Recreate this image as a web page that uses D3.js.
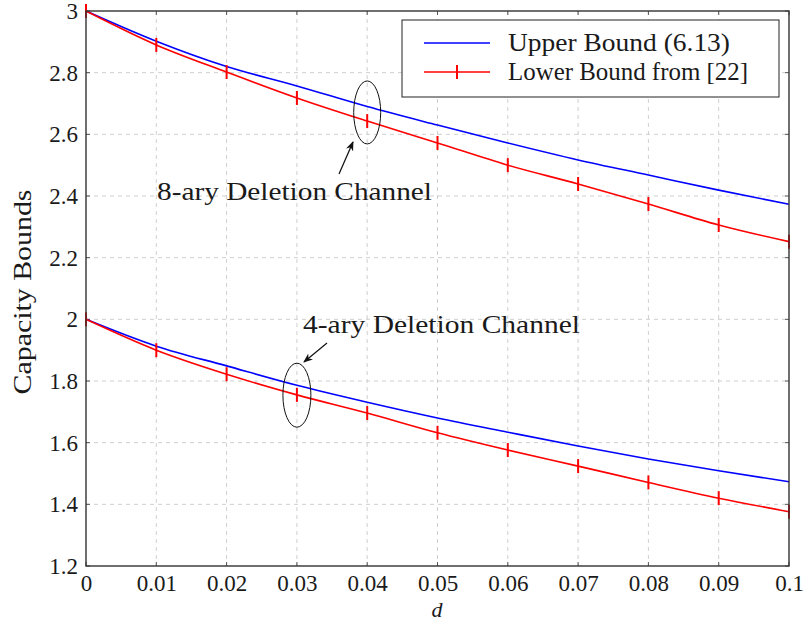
<!DOCTYPE html>
<html><head><meta charset="utf-8">
<script src="https://cdn.jsdelivr.net/npm/d3@7"></script>
<style>
body{margin:0;background:#fff;}
text{font-family:"Liberation Serif","DejaVu Serif",serif;fill:#1a1a1a;}
</style></head>
<body><svg id="c" width="806" height="622"></svg>
<script>
const dValues = [0,0.01,0.02,0.03,0.04,0.05,0.06,0.07,0.08,0.09,0.1];
const upper8 = [3,2.902,2.820,2.757,2.690,2.630,2.572,2.517,2.468,2.419,2.373];
const lower8 = [3,2.890,2.802,2.718,2.643,2.572,2.500,2.439,2.374,2.306,2.252];
const upper4 = [2,1.913,1.849,1.786,1.731,1.680,1.634,1.589,1.547,1.509,1.473];
const lower4 = [2,1.900,1.822,1.755,1.696,1.632,1.576,1.524,1.471,1.420,1.376];
const xTicks = [0,0.01,0.02,0.03,0.04,0.05,0.06,0.07,0.08,0.09,0.1];
const xTickLabels = ["0","0.01","0.02","0.03","0.04","0.05","0.06","0.07","0.08","0.09","0.1"];
const yTicks = [1.2,1.4,1.6,1.8,2,2.2,2.4,2.6,2.8,3];
const yTickLabels = ["1.2","1.4","1.6","1.8","2","2.2","2.4","2.6","2.8","3"];
const legendLabels = ["Upper Bound (6.13)","Lower Bound from [22]"];
const annotations = [
  {label:"8-ary Deletion Channel", d:0.04, v:2.671},
  {label:"4-ary Deletion Channel", d:0.03, v:1.754}
];

const L=86,R=789,T=11,B=566;
const svg=d3.select("#c");
const x=d3.scaleLinear().domain([0,0.1]).range([L,R]);
const y=d3.scaleLinear().domain([1.2,3]).range([B,T]);

// grid
const g=svg.append("g");
g.selectAll("line.vx").data(xTicks.slice(1,-1)).enter().append("line")
 .attr("x1",d=>x(d)).attr("x2",d=>x(d)).attr("y1",T).attr("y2",B)
 .attr("stroke","#cfcfcf").attr("stroke-width",1).attr("stroke-dasharray","4,4");
g.selectAll("line.hy").data(yTicks.slice(1,-1)).enter().append("line")
 .attr("y1",d=>y(d)).attr("y2",d=>y(d)).attr("x1",L).attr("x2",R)
 .attr("stroke","#cfcfcf").attr("stroke-width",1).attr("stroke-dasharray","4,4");

// axes
const xAxis=d3.axisBottom(x).tickValues(xTicks).tickFormat((d,i)=>xTickLabels[i]).tickSize(0).tickPadding(9);
const yAxis=d3.axisLeft(y).tickValues(yTicks).tickFormat((d,i)=>yTickLabels[i]).tickSize(0).tickPadding(8);
const ax=svg.append("g").attr("transform",`translate(0,${B})`).call(xAxis);
ax.select(".domain").remove();
ax.selectAll("text").attr("font-size",23).attr("font-family","Liberation Serif").attr("fill","#1a1a1a");
const ay=svg.append("g").attr("transform",`translate(${L},0)`).call(yAxis);
ay.select(".domain").remove();
ay.selectAll("text").attr("font-size",23).attr("font-family","Liberation Serif").attr("fill","#1a1a1a").attr("dy","0.33em");

// small inner ticks
svg.selectAll("line.tx").data(xTicks).enter().append("line")
 .attr("x1",d=>x(d)).attr("x2",d=>x(d)).attr("y1",B).attr("y2",B-4).attr("stroke","#555");
svg.selectAll("line.tx2").data(xTicks).enter().append("line")
 .attr("x1",d=>x(d)).attr("x2",d=>x(d)).attr("y1",T).attr("y2",T+4).attr("stroke","#555");
svg.selectAll("line.ty").data(yTicks).enter().append("line")
 .attr("y1",d=>y(d)).attr("y2",d=>y(d)).attr("x1",L).attr("x2",L+4).attr("stroke","#555");
svg.selectAll("line.ty2").data(yTicks).enter().append("line")
 .attr("y1",d=>y(d)).attr("y2",d=>y(d)).attr("x1",R).attr("x2",R-4).attr("stroke","#555");

// lines
const line=d3.line().curve(d3.curveMonotoneX).x((d,i)=>x(dValues[i])).y(d=>y(d));
const series=[{v:upper8,c:"#0000ff",m:false},{v:upper4,c:"#0000ff",m:false},{v:lower8,c:"#ff0000",m:true},{v:lower4,c:"#ff0000",m:true}];
series.forEach(s=>{
  svg.append("path").datum(s.v).attr("d",line).attr("fill","none").attr("stroke",s.c).attr("stroke-width",1.6);
  if(s.m){
    svg.selectAll(null).data(s.v).enter().append("line")
     .attr("x1",(d,i)=>x(dValues[i])).attr("x2",(d,i)=>x(dValues[i]))
     .attr("y1",d=>y(d)-7).attr("y2",d=>y(d)+7).attr("stroke",s.c).attr("stroke-width",2);
  }
});

// frame
svg.append("rect").attr("x",L).attr("y",T).attr("width",R-L).attr("height",B-T)
 .attr("fill","none").attr("stroke","#333").attr("stroke-width",1.4);

// annotations
svg.append("defs").append("marker").attr("id","ah").attr("viewBox","0 0 10 10").attr("refX",9).attr("refY",5)
 .attr("markerWidth",8).attr("markerHeight",8).attr("orient","auto-start-reverse")
 .append("path").attr("d","M0,1 L10,5 L0,9 L3,5 Z").attr("fill","#111");
const annLayout=[
  {rx:13.5,ry:31.5,tx:157,ty:200,tw:275,ax1:339,ay1:174,ax2:353,ay2:142},
  {rx:14,ry:32,tx:303,ty:333,tw:277,ax1:327,ay1:343,ax2:304,ay2:362}
];
annotations.forEach((a,i)=>{
  const l=annLayout[i];
  svg.append("ellipse").attr("cx",x(a.d)).attr("cy",y(a.v)).attr("rx",l.rx).attr("ry",l.ry)
   .attr("fill","none").attr("stroke","#111").attr("stroke-width",1);
  svg.append("line").attr("x1",l.ax1).attr("y1",l.ay1).attr("x2",l.ax2).attr("y2",l.ay2)
   .attr("stroke","#111").attr("stroke-width",1.2).attr("marker-end","url(#ah)");
  svg.append("text").attr("x",l.tx).attr("y",l.ty).attr("font-size",26)
   .attr("textLength",l.tw).attr("lengthAdjust","spacingAndGlyphs").text(a.label);
});

// legend
const lg=svg.append("g");
lg.append("rect").attr("x",402).attr("y",20).attr("width",377).attr("height",77)
 .attr("fill","#fff").attr("stroke","#222").attr("stroke-width",1);
[{c:"#0000ff",m:false,y:43,w:222},{c:"#ff0000",m:true,y:72,w:240}].forEach((e,i)=>{
  lg.append("line").attr("x1",424).attr("x2",490).attr("y1",e.y).attr("y2",e.y).attr("stroke",e.c).attr("stroke-width",1.6);
  if(e.m) lg.append("line").attr("x1",457).attr("x2",457).attr("y1",e.y-7).attr("y2",e.y+7).attr("stroke",e.c).attr("stroke-width",2);
  lg.append("text").attr("x",508).attr("y",e.y+7.5).attr("font-size",26)
   .attr("textLength",e.w).attr("lengthAdjust","spacingAndGlyphs").text(legendLabels[i]);
});

// axis labels
svg.append("text").attr("transform","translate(31,292) rotate(-90)").attr("text-anchor","middle")
 .attr("font-size",26).attr("textLength",205).attr("lengthAdjust","spacingAndGlyphs").text("Capacity Bounds");
svg.append("text").attr("x",437).attr("y",617).attr("text-anchor","middle").attr("font-size",22)
 .attr("font-style","italic").text("d");
</script></body></html>
